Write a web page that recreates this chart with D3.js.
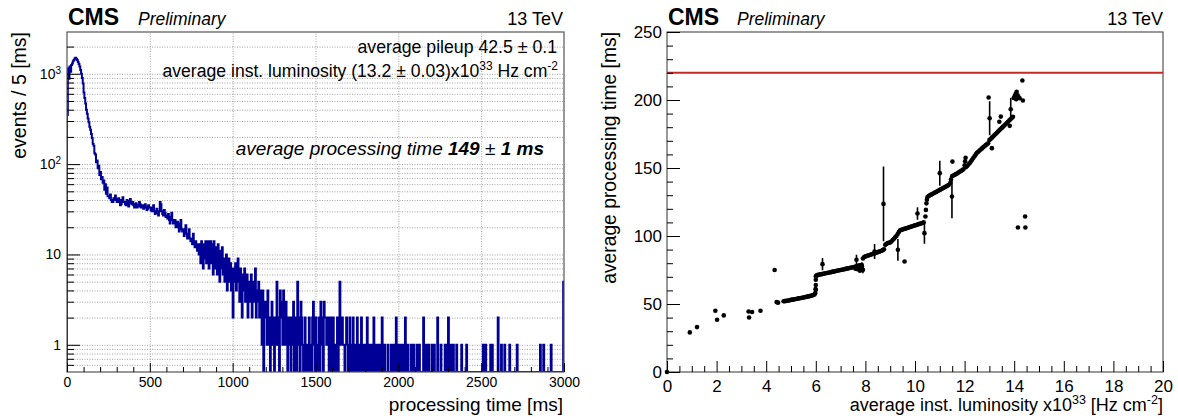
<!DOCTYPE html>
<html>
<head>
<meta charset="utf-8">
<script src="https://cdn.jsdelivr.net/npm/d3@7"></script>
<style>
body { margin: 0; background: #fff; }
svg { font-family: "Liberation Sans", Arial, Helvetica, sans-serif; }
.grid line { stroke: #a0a0a0; stroke-dasharray: 1,1.5; }
.grid path { display: none; }
</style>
</head>
<body>
<svg></svg>
<script>
// ---- left: processing time histogram (5 ms bins) ----
let binWidth = 5
// bins 0 .. 1195 ms
let histCounts = [
  350, 1150, 880, 1200, 1050, 1250, 1300, 1380, 1420, 1480,
  1500, 1470, 1420, 1350, 1280, 1200, 1100, 1000, 900, 780,
  620, 540, 470, 400, 360, 320, 290, 260, 240, 215,
  195, 168, 160, 132, 128, 105, 110, 90, 96, 76,
  82, 68, 72, 62, 66, 52, 60, 47, 55, 44,
  44, 42, 46, 40, 38, 38, 42, 40, 45, 41,
  38, 38, 42, 40, 35, 36, 40, 43, 38, 38,
  36, 35, 40, 38, 34, 39, 41, 37, 36, 38,
  35, 33, 36, 37, 33, 35, 34, 38, 36, 33,
  34, 35, 32, 33, 36, 34, 31, 32, 35, 33,
  33, 31, 30, 33, 35, 30, 28, 30, 32, 29,
  27, 30, 38, 36, 30, 28, 27, 31, 29, 26,
  27, 25, 28, 24, 22, 26, 29, 24, 22, 23,
  24, 20, 21, 23, 20, 18, 22, 24, 19, 18,
  19, 16, 18, 21, 17, 15, 17, 19, 15, 14,
  15, 13, 17, 14, 12, 14, 12, 11, 13, 10,
  13, 8, 14, 10, 7, 13, 9, 14, 8, 12,
  14, 7, 12, 14, 8, 13, 6, 14, 9, 7,
  12, 6, 13, 8, 5, 11, 7, 12, 6, 9,
  5, 8, 10, 4, 7, 9, 5, 8, 4, 7,
  2, 7, 5, 8, 4, 6, 9, 5, 3, 7,
  5, 2, 6, 4, 7, 3, 5, 6, 2, 4,
  5, 3, 6, 2, 4, 5, 3, 7, 2, 4,
  3, 5, 2, 4, 3, 1, 4, 0, 2, 3
]
// sparse tail: [bin start ms, events], every other bin is empty
let histTail = [
  [1200,2],[1205,1],[1210,4],[1215,2],[1220,1],[1230,2],[1235,3],[1240,1],[1245,2],[1255,1],
  [1260,2],[1265,5],[1270,1],[1275,2],[1285,4],[1290,2],[1295,3],[1300,1],[1305,4],[1310,2],
  [1315,1],[1320,3],[1325,2],[1335,1],[1340,2],[1345,1],[1355,2],[1360,1],[1365,3],[1375,2],
  [1380,1],[1390,5],[1395,2],[1400,1],[1410,3],[1415,2],[1420,1],[1430,1],[1435,2],[1445,1],
  [1450,1],[1460,2],[1470,1],[1480,2],[1485,3],[1490,1],[1500,2],[1505,1],[1515,1],[1520,2],
  [1530,3],[1535,1],[1540,2],[1550,3],[1555,2],[1560,2],[1565,1],[1570,2],[1575,2],[1585,1],
  [1590,2],[1600,1],[1605,2],[1615,1],[1620,1],[1630,2],[1640,1],[1645,5],[1650,1],[1655,1],
  [1660,2],[1665,1],[1670,1],[1680,1],[1685,2],[1690,1],[1700,1],[1705,2],[1715,1],[1725,2],
  [1730,1],[1740,1],[1750,2],[1760,1],[1770,1],[1775,2],[1790,1],[1800,1],[1810,2],[1820,1],
  [1835,1],[1850,2],[1860,1],[1875,1],[1890,1],[1900,2],[1915,1],[1935,1],[1955,1],[1970,1],
  [1985,2],[2000,1],[2010,1],[2025,1],[2040,2],[2055,1],[2075,1],[2090,1],[2110,1],[2125,1],
  [2150,2],[2165,1],[2180,1],[2200,1],[2215,1],[2235,2],[2255,1],[2280,1],[2290,1],[2300,2],
  [2305,1],[2315,1],[2330,1],[2350,1],[2380,1],[2410,1],[2510,1],[2525,1],[2555,1],[2565,1],
  [2600,2],[2620,1],[2640,1],[2670,1],[2715,1],[2855,1],[2875,1],[2920,1],[2995,5]
]
let histXTicks = [0, 500, 1000, 1500, 2000, 2500, 3000]
let histXMinor = [100,200,300,400,600,700,800,900,1100,1200,1300,1400,1600,1700,1800,1900,2100,2200,2300,2400,2600,2700,2800,2900]
let histXGrid = [500, 1000, 1500, 2000, 2500]
let histYTicks = [1, 10, 100, 1000]
let histYMinor = [0.6,0.7,0.8,0.9,2,3,4,5,6,7,8,9,20,30,40,50,60,70,80,90,200,300,400,500,600,700,800,900,2000]

// ---- right: processing time vs luminosity ----
let scatterPoints = [
  [0,0],[0.92,29.1],[1.21,33.0],[1.95,45.0],[2.02,38.4],[2.29,41.6],[3.29,44.5],[3.31,40.1],[3.43,44.1],[3.77,45.0],
  [4.34,75.0],[4.42,51.4],[4.48,51.0],
  [4.70,52.0],[4.75,52.1],[4.80,52.3],[4.85,52.4],[4.90,52.6],[4.95,52.8],[5.00,53.0],[5.05,53.2],[5.10,53.3],[5.15,53.5],
  [5.20,53.7],[5.25,53.9],[5.30,54.1],[5.35,54.2],[5.40,54.4],[5.45,54.6],[5.50,54.8],[5.55,55.0],[5.60,55.2],[5.65,55.4],
  [5.70,55.6],[5.75,55.8],[5.80,56.0],[5.85,56.3],[5.90,56.6],[5.95,57.0],
  [5.98,58.0],[5.99,61.0],[6.00,64.0],[6.00,67.8],[6.00,70.3],
  [6.02,70.8],[6.05,71.2],[6.10,71.4],[6.15,71.6],[6.20,71.8],[6.25,72.0],[6.30,72.2],[6.35,72.4],[6.40,72.6],[6.45,72.8],
  [6.50,73.0],[6.55,73.2],[6.60,73.4],[6.65,73.6],[6.70,73.8],[6.75,74.0],[6.80,74.2],[6.85,74.4],[6.90,74.6],[6.95,74.8],
  [7.00,75.0],[7.05,75.2],[7.10,75.4],[7.15,75.6],[7.20,75.8],[7.25,76.0],[7.30,76.2],[7.35,76.4],[7.40,76.6],[7.45,76.8],
  [7.50,77.0],[7.55,77.2],[7.60,77.5],[7.65,77.8],[7.70,78.0],[7.75,78.2],[7.80,78.5],[7.85,78.8],
  [7.60,76.0],[7.68,75.5],[7.72,77.0],[7.78,74.5],[7.82,76.2],[7.88,75.0],
  [7.90,83.5],[7.95,84.5],[8.00,85.0],[8.05,85.3],[8.10,85.6],[8.15,85.9],[8.20,86.2],[8.25,86.5],[8.30,86.8],[8.35,87.1],
  [8.40,87.4],[8.45,87.8],[8.50,88.1],[8.55,88.5],[8.60,88.8],[8.65,89.2],[8.70,89.6],[8.75,90.2],
  [8.80,93.5],[8.85,94.2],[8.90,94.8],[8.95,95.0],[9.00,95.3],[9.05,96.0],[9.10,97.0],[9.15,98.0],[9.20,99.0],[9.25,100.0],
  [9.30,101.5],[9.35,103.0],[9.40,104.2],[9.45,104.5],[9.50,104.8],[9.55,105.1],[9.60,105.4],[9.65,105.7],[9.70,106.0],[9.75,106.3],
  [9.80,106.6],[9.85,106.9],[9.90,107.2],[9.95,107.5],[10.00,107.8],[10.05,108.1],[10.10,108.4],[10.15,108.7],[10.20,109.0],[10.25,109.3],
  [10.30,109.6],[10.35,110.0],
  [10.42,114.3],[10.44,119.2],[10.46,124.0],[10.48,126.6],[10.50,128.5],
  [10.55,129.4],[10.60,129.9],[10.65,130.4],[10.70,130.9],[10.75,131.4],[10.80,131.9],[10.85,132.4],[10.90,132.9],[10.95,133.4],[11.00,133.9],
  [11.05,134.4],[11.10,134.9],[11.15,135.4],[11.20,135.9],[11.25,136.4],[11.30,136.9],[11.35,137.4],
  [11.42,139.0],[11.45,141.5],
  [11.50,144.0],[11.55,144.5],[11.60,145.0],[11.65,145.5],[11.70,146.0],[11.75,146.6],[11.80,147.2],[11.85,147.8],[11.90,148.4],[11.95,149.0],
  [12.00,152.0],[12.02,155.0],[12.04,157.5],[12.05,150.5],[12.10,151.5],[12.15,152.5],[12.20,153.5],[12.25,154.8],[12.30,156.0],[12.35,157.3],
  [12.40,158.6],[12.45,160.0],[12.50,161.2],[12.55,162.0],[12.60,162.8],[12.65,163.6],[12.70,164.4],[12.75,165.2],[12.80,166.0],[12.85,166.8],
  [12.90,167.5],[12.95,168.2],
  [13.00,170.5],[13.05,171.4],[13.10,172.3],[13.15,173.2],[13.20,174.1],[13.25,175.0],[13.30,175.9],[13.35,176.8],[13.40,177.7],[13.45,178.6],
  [13.50,179.5],[13.55,180.4],[13.60,181.3],[13.65,182.2],[13.70,183.1],[13.75,184.0],[13.80,184.9],[13.85,185.8],[13.90,186.7],[13.95,187.6],
  [13.98,201.5],[14.02,203.0],[14.06,204.5],[14.10,206.0],[14.14,203.5],[14.18,202.0],[14.22,201.3],[14.08,200.5],
  [9.58,81.3],[11.51,154.7],[12.97,201.8],[13.46,187.8],[13.40,184.0],[13.82,181.0],[14.33,214.3],[14.35,199.6],
  [14.15,106.2],[14.45,106.2],[14.44,114.3]
]
// [lumi, time, error]
let errorPoints = [
  [6.00,60.5,2.0],[6.27,79.3,4.5],[7.64,82.5,3.7],[7.86,77.5,3.0],[7.90,75.2,2.5],[8.37,88.6,5.5],[8.73,123.6,27.5],
  [9.31,89.8,8.0],[10.10,116.5,4.6],[10.38,102.1,7.8],[11.00,146.2,9.2],[11.49,129.0,16.0],
  [13.01,186.6,12.5],[13.10,164.6,1.5],[13.86,193.2,8.4]
]
let limitTime = 220
let scatXTicks = [0, 2, 4, 6, 8, 10, 12, 14, 16, 18, 20]
let scatXMinor = [0.5,1,1.5,2.5,3,3.5,4.5,5,5.5,6.5,7,7.5,8.5,9,9.5,10.5,11,11.5,12.5,13,13.5,14.5,15,15.5,16.5,17,17.5,18.5,19,19.5]
let scatYTicks = [0, 50, 100, 150, 200, 250]
let scatYMinor = [10,20,30,40,60,70,80,90,110,120,130,140,160,170,180,190,210,220,230,240]

let svg = d3.select("svg").attr("width", 1178).attr("height", 419)

let left = { x: 67, y: 32, w: 497, h: 340 }
let right = { x: 667, y: 32, w: 496, h: 340 }

let xH = d3.scaleLinear().domain([0, 3000]).range([0, left.w])
let yH = d3.scaleLog().domain([0.5, 2900]).range([left.h, 0])
let xS = d3.scaleLinear().domain([0, 20]).range([0, right.w])
let yS = d3.scaleLinear().domain([0, 250]).range([right.h, 0])

let styleAxis = (g, size) => {
    g.attr("font-size", size).attr("font-family", null)
    g.select(".domain").remove()
    g.selectAll(".tick line").attr("stroke", "#000")
    g.selectAll(".tick text").attr("fill", "#000")
}

let drawLeft = () => {
    let g = svg.append("g").attr("transform", "translate(" + left.x + "," + left.y + ")")

    g.append("clipPath").attr("id", "clipL").append("rect").attr("width", left.w).attr("height", left.h)

    // dotted grid
    g.append("g").attr("class", "grid")
        .attr("transform", "translate(0," + left.h + ")")
        .call(d3.axisBottom(xH).tickValues(histXGrid).tickSize(-left.h).tickFormat(""))
    g.append("g").attr("class", "grid")
        .call(d3.axisLeft(yH).tickValues(histYTicks.concat(histYMinor)).tickSize(-left.w).tickFormat(""))

    // histogram outline
    let counts = new Array(3000 / binWidth).fill(0)
    histCounts.forEach((c, i) => { counts[i] = c })
    histTail.forEach((d) => { counts[d[0] / binWidth] = d[1] })
    let floor = yH.domain()[0]
    let pts = [[0, floor]]
    counts.forEach((c, i) => {
        let v = c > 0 ? c : floor
        pts.push([i * binWidth, v], [(i + 1) * binWidth, v])
    })
    pts.push([3000, floor])
    g.append("path")
        .attr("clip-path", "url(#clipL)")
        .attr("d", d3.line().x(d => xH(d[0])).y(d => yH(d[1]))(pts))
        .attr("fill", "none")
        .attr("stroke", "#000096")
        .attr("stroke-width", 2)

    g.append("rect").attr("width", left.w).attr("height", left.h)
        .attr("fill", "none").attr("stroke", "#555").attr("stroke-width", 1.2)

    // axes
    let xa = g.append("g").attr("transform", "translate(0," + left.h + ")")
        .call(d3.axisBottom(xH).tickValues(histXTicks).tickFormat(d3.format("d"))
            .tickSizeInner(-9).tickSizeOuter(0).tickPadding(5))
    styleAxis(xa, 14)
    let xm = g.append("g").attr("transform", "translate(0," + left.h + ")")
        .call(d3.axisBottom(xH).tickValues(histXMinor).tickSizeInner(-5).tickSizeOuter(0).tickFormat(""))
    styleAxis(xm, 14)

    let ya = g.append("g")
        .call(d3.axisLeft(yH).tickValues(histYTicks).tickFormat(d3.format("d"))
            .tickSizeInner(-13).tickSizeOuter(0).tickPadding(6))
    styleAxis(ya, 14)
    ya.selectAll(".tick text").each(function (d) {
        if (d >= 100) {
            let t = d3.select(this)
            t.text("10")
            t.append("tspan").attr("dy", "-0.5em").attr("font-size", 10).text(Math.round(Math.log10(d)))
        }
    })
    let ym = g.append("g")
        .call(d3.axisLeft(yH).tickValues(histYMinor).tickSizeInner(-7).tickSizeOuter(0).tickFormat(""))
    styleAxis(ym, 14)
}

let drawRight = () => {
    let g = svg.append("g").attr("transform", "translate(" + right.x + "," + right.y + ")")

    g.append("rect").attr("width", right.w).attr("height", right.h)
        .attr("fill", "none").attr("stroke", "#555").attr("stroke-width", 1.2)

    g.append("line")
        .attr("x1", xS(0)).attr("x2", xS(20))
        .attr("y1", yS(limitTime)).attr("y2", yS(limitTime))
        .attr("stroke", "#c62828").attr("stroke-width", 2)

    g.selectAll(".ebar").data(errorPoints).enter().append("line")
        .attr("class", "ebar")
        .attr("x1", d => xS(d[0])).attr("x2", d => xS(d[0]))
        .attr("y1", d => yS(d[1] - d[2])).attr("y2", d => yS(d[1] + d[2]))
        .attr("stroke", "#000").attr("stroke-width", 1.6)
    g.selectAll(".edot").data(errorPoints).enter().append("circle")
        .attr("class", "edot")
        .attr("cx", d => xS(d[0])).attr("cy", d => yS(d[1])).attr("r", 2.3)

    g.selectAll(".dot").data(scatterPoints).enter().append("circle")
        .attr("class", "dot")
        .attr("cx", d => xS(d[0])).attr("cy", d => yS(d[1])).attr("r", 2.3)
        .attr("fill", "#000")

    let xa = g.append("g").attr("transform", "translate(0," + right.h + ")")
        .call(d3.axisBottom(xS).tickValues(scatXTicks).tickSizeInner(-11).tickSizeOuter(0).tickPadding(8))
    styleAxis(xa, 17)
    let xm = g.append("g").attr("transform", "translate(0," + right.h + ")")
        .call(d3.axisBottom(xS).tickValues(scatXMinor).tickSizeInner(-6).tickSizeOuter(0).tickFormat(""))
    styleAxis(xm, 17)
    let ya = g.append("g")
        .call(d3.axisLeft(yS).tickValues(scatYTicks).tickSizeInner(-13).tickSizeOuter(0).tickPadding(5))
    styleAxis(ya, 17)
    let ym = g.append("g")
        .call(d3.axisLeft(yS).tickValues(scatYMinor).tickSizeInner(-6).tickSizeOuter(0).tickFormat(""))
    styleAxis(ym, 17)
}

let drawLabels = () => {
    [[68, 138, 563], [668, 737, 1163]].forEach((p) => {
        svg.append("text").attr("x", p[0]).attr("y", 25).attr("font-size", 23).attr("font-weight", "bold").text("CMS")
        svg.append("text").attr("x", p[1]).attr("y", 25).attr("font-size", 17.5).attr("font-style", "italic").text("Preliminary")
        svg.append("text").attr("x", p[2]).attr("y", 25).attr("font-size", 18).attr("text-anchor", "end").text("13 TeV")
    })

    svg.append("text").attr("x", 557).attr("y", 53).attr("font-size", 17.7).attr("text-anchor", "end")
        .text("average pileup 42.5 \u00b1 0.1")

    let lumi = svg.append("text").attr("x", 558).attr("y", 77).attr("font-size", 17.6).attr("text-anchor", "end")
    lumi.append("tspan").text("average inst. luminosity (13.2 \u00b1 0.03)x10")
    lumi.append("tspan").attr("dy", -7).attr("font-size", 12).text("33")
    lumi.append("tspan").attr("dy", 7).text(" Hz cm")
    lumi.append("tspan").attr("dy", -7).attr("font-size", 12).text("-2")

    let avg = svg.append("text").attr("x", 544).attr("y", 155).attr("font-size", 19)
        .attr("text-anchor", "end").attr("font-style", "italic")
    avg.append("tspan").text("average processing time ")
    avg.append("tspan").attr("font-weight", "bold").text("149")
    avg.append("tspan").attr("font-style", "normal").text(" \u00b1 ")
    avg.append("tspan").attr("font-weight", "bold").text("1 ms")

    svg.append("text").attr("x", 563).attr("y", 411).attr("font-size", 19).attr("text-anchor", "end")
        .text("processing time [ms]")
    svg.append("text").attr("transform", "translate(26,32) rotate(-90)").attr("font-size", 19.5)
        .attr("text-anchor", "end").text("events / 5 [ms]")

    let xt = svg.append("text").attr("x", 1163).attr("y", 411).attr("font-size", 18).attr("text-anchor", "end")
    xt.append("tspan").text("average inst. luminosity x10")
    xt.append("tspan").attr("dy", -7).attr("font-size", 12.5).text("33")
    xt.append("tspan").attr("dy", 7).text(" [Hz cm")
    xt.append("tspan").attr("dy", -7).attr("font-size", 12.5).text("-2")
    xt.append("tspan").attr("dy", 7).text("]")
    svg.append("text").attr("transform", "translate(616,32) rotate(-90)").attr("font-size", 19.3)
        .attr("text-anchor", "end").text("average processing time [ms]")
}

drawLeft()
drawRight()
drawLabels()
</script>
</body>
</html>
